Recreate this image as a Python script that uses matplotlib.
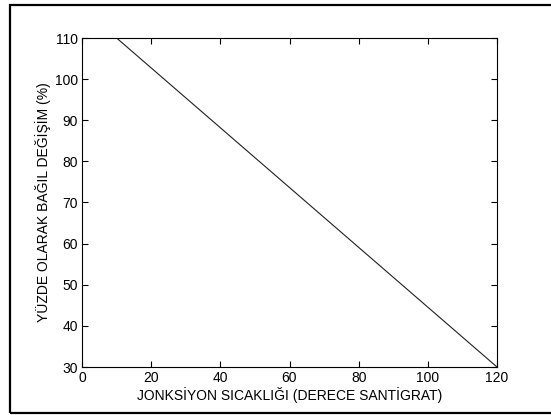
import matplotlib
matplotlib.use('Agg')
import matplotlib.pyplot as plt
from matplotlib.patches import Rectangle

# junction temperature vs relative change
temps = [10, 120]
change = [110, 30]
xticks = [0, 20, 40, 60, 80, 100, 120]
yticks = [30, 40, 50, 60, 70, 80, 90, 100, 110]

plt.rcParams['font.family'] = ['Liberation Sans', 'DejaVu Sans']

fig = plt.figure(figsize=(5.51, 4.15), dpi=100)
ax = fig.add_axes([82 / 551, 48 / 415, 415 / 551, 329 / 415])

ax.plot(temps, change, color='#202020', linewidth=0.8)
ax.set_xlim(0, 120)
ax.set_ylim(30, 110)
ax.set_xticks(xticks)
ax.set_yticks(yticks)
ax.tick_params(direction='in', length=4, width=0.8, top=True, right=True,
               labelsize=10, pad=3)
for s in ax.spines.values():
    s.set_linewidth(0.8)

ax.set_xlabel('JONKSİYON SICAKLIĞI (DERECE SANTİGRAT)', fontsize=10, labelpad=1)
ax.set_ylabel('YÜZDE OLARAK BAĞIL DEĞİŞİM (%)', fontsize=10, labelpad=3)

# outer frame (right side runs off the image)
fig.patches.append(Rectangle((9.5 / 551, 2 / 415), 560 / 551, 408 / 415,
                             transform=fig.transFigure, fill=False,
                             edgecolor='black', linewidth=1.6))

fig.savefig('out.png', dpi=100)
